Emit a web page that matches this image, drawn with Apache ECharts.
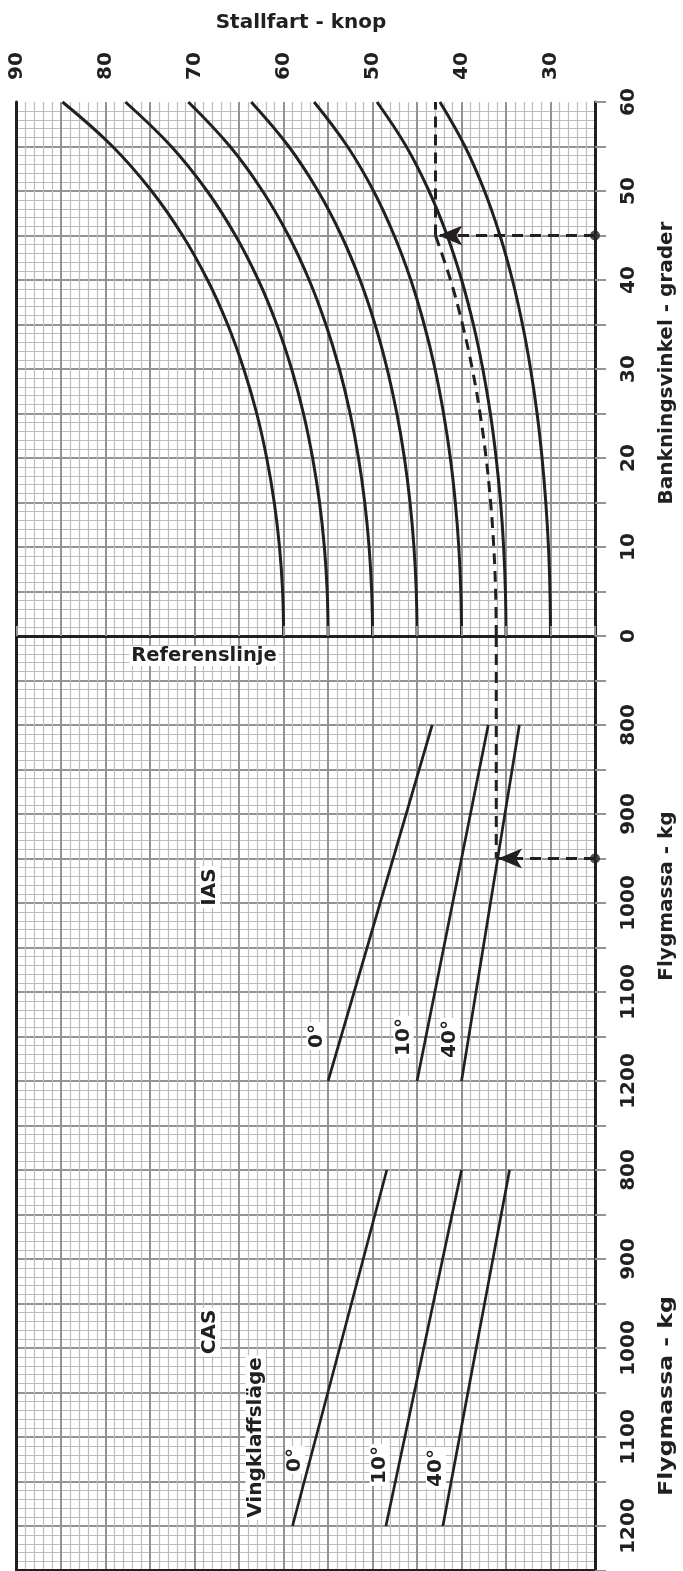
<!DOCTYPE html>
<html><head><meta charset="utf-8">
<script src="https://cdn.jsdelivr.net/npm/echarts@6/dist/echarts.min.js"></script>
<style>html,body{margin:0;padding:0;background:#fff}#c{width:683px;height:1571px}</style>
</head><body><div id="c"></div>
<script>
// ---------- data ----------
const knotLabels = [30, 40, 50, 60, 70, 80, 90];
const bankLabels = [0, 10, 20, 30, 40, 50, 60];
const massLabels = [800, 900, 1000, 1100, 1200];

const bankAngles = [0, 5, 10, 15, 20, 25, 30, 35, 40, 45, 50, 55, 60];
const stallA = [60.00, 60.11, 60.46, 61.05, 61.90, 63.02, 64.48, 66.29, 68.55, 71.35, 74.84, 79.22, 84.85];
const stallB = [55.00, 55.10, 55.42, 55.96, 56.74, 57.77, 59.10, 60.77, 62.84, 65.41, 68.60, 72.62, 77.78];
const stallC = [50.00, 50.10, 50.39, 50.88, 51.58, 52.52, 53.73, 55.25, 57.13, 59.46, 62.37, 66.02, 70.71];
const stallD = [45.00, 45.09, 45.35, 45.79, 46.42, 47.27, 48.36, 49.72, 51.41, 53.51, 56.13, 59.42, 63.64];
const stallE = [40.00, 40.08, 40.31, 40.70, 41.26, 42.02, 42.98, 44.20, 45.70, 47.57, 49.89, 52.82, 56.57];
const stallF = [35.00, 35.07, 35.27, 35.61, 36.11, 36.76, 37.61, 38.67, 39.99, 41.62, 43.66, 46.21, 49.50];
const stallG = [30.00, 30.06, 30.23, 30.53, 30.95, 31.51, 32.24, 33.15, 34.28, 35.68, 37.42, 39.61, 42.43];

const massEnds = [800, 1200];
const ias0 = [43.3, 55.0];
const ias10 = [37.0, 45.0];
const ias40 = [33.5, 40.0];
const cas0 = [48.4, 59.0];
const cas10 = [40.0, 48.5];
const cas40 = [34.6, 42.1];

// worked example (dashed)
const exBank = [0, 5, 10, 15, 20, 25, 30, 35, 40, 45];
const exKnots = [36.10, 36.17, 36.38, 36.73, 37.24, 37.92, 38.79, 39.89, 41.24, 42.93];
const exTopBank = [45, 60];
const exTopKnots = [42.93, 42.93];
const exBankStart = 45;
const exBankArrowTip = 42.6;
const exMass = 950;
const exMassKnots = 36.1;
const exMassArrowTip = 35.9;

// ---------- style ----------
const INK = '#231f20';
const MAJ = '#939393';
const MIN = '#bdbdbd';
const FONT = '"DejaVu Sans", sans-serif';
const L = 16.7, W = 578.3;
const grids = [
  {left: L, width: W, top: 102, height: 534},
  {left: L, width: W, top: 636, height: 489.5},
  {left: L, width: W, top: 1125.5, height: 445}
];
const yRanges = [
  {min: 0, max: 60, inverse: false, showMin: false, showMax: false},
  {min: 700, max: 1250, inverse: true, showMin: false, showMax: true},
  {min: 750, max: 1250, inverse: true, showMin: false, showMax: false}
];
const pairs = (xs, ys) => xs.map((x, i) => [x, ys[i]]);

const xAxes = [], yAxes = [];
grids.forEach((g, gi) => {
  const xBase = {type: 'value', gridIndex: gi, min: 25, max: 90, interval: 5, inverse: true};
  xAxes.push(Object.assign({}, xBase, {
    position: 'bottom', z: 1,
    axisLine: {show: false}, axisTick: {show: false}, axisLabel: {show: false},
    splitLine: {show: true, showMinLine: false, showMaxLine: false, lineStyle: {color: MAJ, width: 2}},
    minorTick: {show: false, splitNumber: 5},
    minorSplitLine: {show: true, lineStyle: {color: MIN, width: 1.2}}
  }));
  xAxes.push(Object.assign({}, xBase, {
    position: 'top', z: 10, show: gi !== 2,
    axisLine: {show: true, lineStyle: {color: INK, width: 3}},
    axisTick: {show: gi === 0, inside: false, length: 10, lineStyle: {color: MAJ, width: 2}},
    axisLabel: {show: gi === 0, rotate: 90, margin: 22, fontSize: 20, fontWeight: 'bold', fontFamily: FONT, color: INK,
      formatter: v => knotLabels.indexOf(v) >= 0 ? String(v) : ''},
    splitLine: {show: false}
  }));
  xAxes.push(Object.assign({}, xBase, {
    position: 'bottom', z: 10, show: gi !== 1,
    axisLine: {show: true, lineStyle: {color: INK, width: 3}},
    axisTick: {show: false}, axisLabel: {show: false}, splitLine: {show: false}
  }));
  const r = yRanges[gi];
  const yBase = {type: 'value', gridIndex: gi, min: r.min, max: r.max, interval: gi === 0 ? 5 : 50, inverse: r.inverse};
  const labs = gi === 0 ? bankLabels : massLabels;
  yAxes.push(Object.assign({}, yBase, {
    position: 'left', z: 1,
    axisLine: {show: false}, axisTick: {show: false}, axisLabel: {show: false},
    splitLine: {show: true, showMinLine: r.showMin, showMaxLine: r.showMax, lineStyle: {color: MAJ, width: 2}},
    minorTick: {show: false, splitNumber: 5},
    minorSplitLine: {show: true, lineStyle: {color: MIN, width: 1.2}}
  }));
  yAxes.push(Object.assign({}, yBase, {
    position: 'right', z: 10,
    axisLine: {show: true, lineStyle: {color: INK, width: 3}},
    axisTick: {show: true, inside: false, length: 11, lineStyle: {color: MAJ, width: 2}},
    axisLabel: {show: true, rotate: 90, margin: 24, fontSize: 20, fontWeight: 'bold', fontFamily: FONT, color: INK,
      formatter: v => labs.indexOf(v) >= 0 ? String(v) : ''},
    splitLine: {show: false}
  }));
  yAxes.push(Object.assign({}, yBase, {
    position: 'left', z: 10,
    axisLine: {show: true, lineStyle: {color: INK, width: 3}},
    axisTick: {show: false}, axisLabel: {show: false}, splitLine: {show: false}
  }));
});

const curve = (vals) => ({
  type: 'line', xAxisIndex: 0, yAxisIndex: 0, data: pairs(vals, bankAngles),
  smooth: 0.4, showSymbol: false, lineStyle: {color: INK, width: 3}, z: 3, silent: true
});
const massLine = (vals, gi) => ({
  type: 'line', xAxisIndex: gi * 3, yAxisIndex: gi * 3, data: pairs(vals, massEnds),
  showSymbol: false, lineStyle: {color: INK, width: 2.7}, z: 3, silent: true
});
const DASH = [11, 7];
const arrowLine = (xi, yi, yVal, tip) => ({
  type: 'line', xAxisIndex: xi, yAxisIndex: yi, data: [], z: 11, silent: true,
  markLine: {silent: true, animation: false, label: {show: false}, symbol: ['none', 'arrow'],
    lineStyle: {color: INK, width: 3, type: DASH}, itemStyle: {color: INK},
    data: [[{coord: [25, yVal], symbol: 'none'}, {coord: [tip, yVal], symbol: 'arrow', symbolSize: [15, 24]}]]}
});
const dot = (xi, yi, yVal) => ({
  type: 'scatter', xAxisIndex: xi, yAxisIndex: yi, data: [[25, yVal]], symbol: 'circle', symbolSize: 10,
  itemStyle: {color: INK}, z: 12, silent: true
});

const series = [
  curve(stallA), curve(stallB), curve(stallC), curve(stallD), curve(stallE), curve(stallF), curve(stallG),
  massLine(ias0, 1), massLine(ias10, 1), massLine(ias40, 1),
  massLine(cas0, 2), massLine(cas10, 2), massLine(cas40, 2),
  {type: 'line', xAxisIndex: 0, yAxisIndex: 0, data: pairs(exKnots, exBank), smooth: 0.4, showSymbol: false,
    lineStyle: {color: INK, width: 3, type: DASH}, z: 4, silent: true},
  {type: 'line', xAxisIndex: 0, yAxisIndex: 0, data: pairs(exTopKnots, exTopBank), showSymbol: false,
    lineStyle: {color: INK, width: 3, type: DASH}, z: 11, silent: true},
  {type: 'line', xAxisIndex: 3, yAxisIndex: 3, data: [[exMassKnots, 700], [exMassKnots, exMass]], showSymbol: false,
    lineStyle: {color: INK, width: 3, type: DASH}, z: 11, silent: true},
  arrowLine(0, 0, exBankStart, exBankArrowTip),
  arrowLine(3, 3, exMass, exMassArrowTip),
  dot(0, 0, exBankStart),
  dot(3, 3, exMass)
];

const txt = (text, x, y, size, rot, bg, sx) => ({
  type: 'text', x: x, y: y, rotation: rot ? Math.PI / 2 : 0, scaleX: sx || 1, z: 50,
  style: {text: text, fill: INK, font: 'bold ' + size + 'px ' + FONT, align: 'center', verticalAlign: 'middle',
    backgroundColor: bg ? '#fff' : null, padding: bg ? [0, 2] : 0}
});

const option = {
  animation: false,
  backgroundColor: '#fff',
  grid: grids.map(g => Object.assign({outerBoundsMode: 'none', containLabel: false}, g)),
  xAxis: xAxes,
  yAxis: yAxes,
  series: series,
  graphic: [
    txt('Stallfart - knop', 301, 23, 20, false, false),
    txt('Bankningsvinkel - grader', 667, 363, 20, true, false),
    txt('Flygmassa - kg', 667, 896, 20, true, false),
    txt('Flygmassa - kg', 667, 1396, 20, true, false, 1.18),
    txt('Referenslinje', 204, 656, 19.5, false, true),
    txt('IAS', 210, 887, 20, true, true),
    txt('CAS', 210, 1332, 20, true, true),
    txt('Vingklaffsläge', 255.5, 1437.5, 20, true, true),
    txt('0°', 316.5, 1036, 20, true, true),
    txt('10°', 403.5, 1037, 20, true, true),
    txt('40°', 450, 1039, 20, true, true),
    txt('0°', 295, 1460, 20, true, true),
    txt('10°', 379.5, 1465, 20, true, true),
    txt('40°', 436, 1468, 20, true, true)
  ]
};
const chart = echarts.init(document.getElementById('c'), null, {renderer: 'canvas'});
chart.setOption(option);
</script></body></html>
